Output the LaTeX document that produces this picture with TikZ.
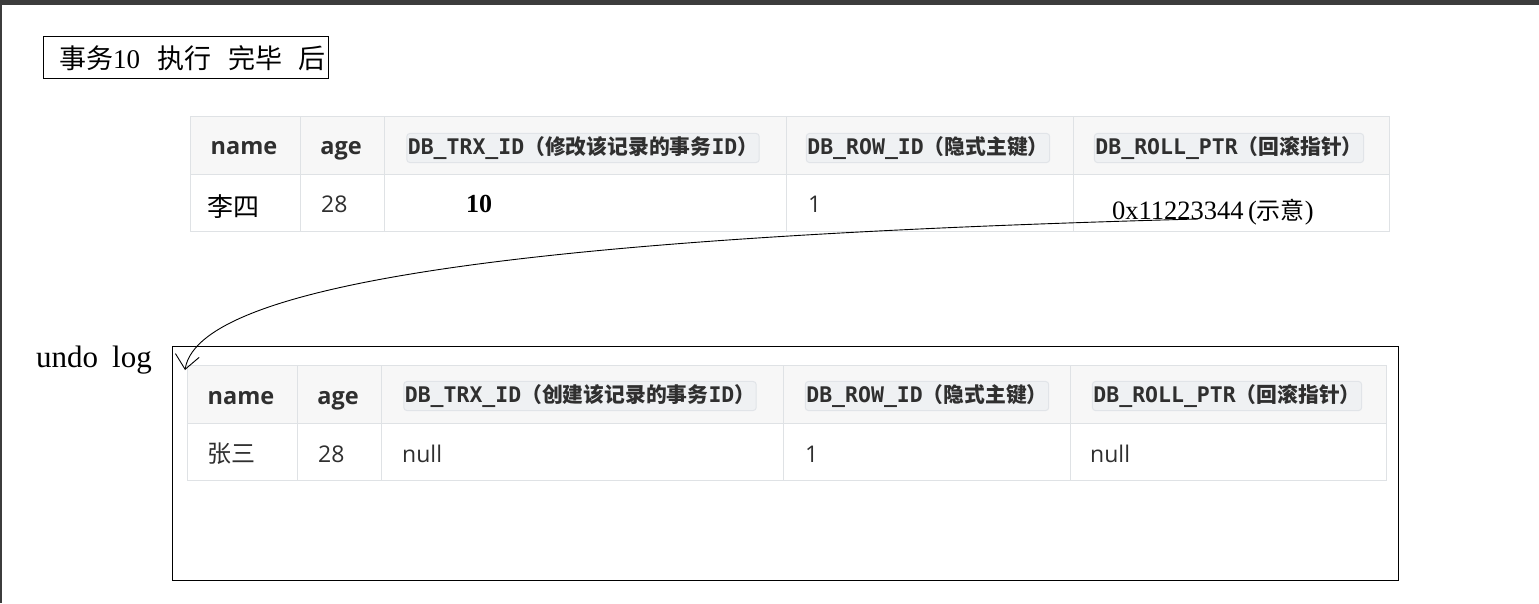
\documentclass[tikz,border=0pt]{standalone}
\usepackage{fontspec}
\setmainfont{Liberation Serif}
\newfontfamily\sansf{Open Sans}
\newfontfamily\monof{DejaVu Sans Mono}
\newfontfamily\cjkf{Noto Sans CJK SC}
\usetikzlibrary{arrows.meta}
\definecolor{tblline}{HTML}{DFE2E5}
\definecolor{headbg}{HTML}{F7F7F7}
\definecolor{codebg}{HTML}{EFF1F3}
\definecolor{codeline}{HTML}{E1E4E8}
\definecolor{txtgray}{HTML}{2F2F2F}
\definecolor{winframe}{HTML}{3C3C3C}
\newcommand\fsz[1]{\fontsize{#1}{#1}\selectfont}
\tikzset{
  cell/.style={anchor=base west, inner sep=0pt, text=txtgray},
  headtxt/.style={anchor=base, inner sep=0pt, text=txtgray, font=\sansf\bfseries\fsz{23.5}},
  codelbl/.style={fill=codebg, draw=codeline, line width=1pt, rounded corners=3pt,
    inner xsep=1pt, inner ysep=3pt, text=txtgray},
  tline/.style={draw=tblline, line width=1pt},
  blackbox/.style={draw=black, line width=1pt},
}
\newcommand\codetxt[2]{{\monof\bfseries\fsz{21.5}#1}{\cjkf\bfseries\fsz{20.8}#2}}
\begin{document}
\begin{tikzpicture}[x=1pt,y=-1pt]
\useasboundingbox (0,0) rectangle (1539,603);
% window edge
\fill[winframe] (0,0) rectangle (1539,5);
\fill[winframe] (0,0) rectangle (1.5,603);
% title
\draw[blackbox] (43,36) rectangle (328,78);
\node[anchor=west, inner sep=0pt] (title) at (59,58)
 {\fsz{27}{\cjkf 事务}10\hspace{17pt}{\cjkf 执行}\hspace{17pt}{\cjkf 完毕}\hspace{16pt}{\cjkf 后}};
% current record
\fill[headbg] (190,116) rectangle (1389,174);
\draw[tline] (190,116) rectangle (1389,231);
\draw[tline] (190,174) -- (1389,174);
\draw[tline] (300,116) -- (300,231);
\draw[tline] (384,116) -- (384,231);
\draw[tline] (786,116) -- (786,231);
\draw[tline] (1073,116) -- (1073,231);
\node[headtxt] (hname) at (244,154) {name};
\node[headtxt] (hage) at (341,154) {age};
\node[codelbl] (htrx) at (583,148) {\codetxt{DB\_TRX\_ID}{（修改该记录的事务}\codetxt{ID}{）}};
\node[codelbl] (hrow) at (928,148) {\codetxt{DB\_ROW\_ID}{（隐式主键）}};
\node[codelbl] (hroll) at (1229,148) {\codetxt{DB\_ROLL\_PTR}{（回滚指针）}};
\node[cell, text=black] (vname) at (207,216) {\cjkf\fsz{26}李四};
\node[cell, font=\sansf\fsz{23}] (vage) at (321,212) {28};
\node[cell, text=black, font=\bfseries\fsz{26}] (vtrx) at (466,212) {10};
\node[cell, font=\sansf\fsz{23}] (vrow) at (808,212) {1};
\node[cell, text=black, font=\fsz{26.5}] (vroll) at (1112,219) {0x11223344\,({\cjkf\fsz{24}示意})};
% undo log
\node[anchor=base west, inner sep=0pt] (undolbl) at (36,367) {\fsz{31}undo\hspace{14pt}log};
\draw[blackbox] (172,346) rectangle (1398,580);
\fill[headbg] (187,365) rectangle (1386,423);
\draw[tline] (187,365) rectangle (1386,480);
\draw[tline] (187,423) -- (1386,423);
\draw[tline] (297,365) -- (297,480);
\draw[tline] (381,365) -- (381,480);
\draw[tline] (783,365) -- (783,480);
\draw[tline] (1070,365) -- (1070,480);
\node[headtxt] (uname) at (241,404) {name};
\node[headtxt] (uage) at (338,404) {age};
\node[codelbl] (utrx) at (580,396) {\codetxt{DB\_TRX\_ID}{（创建该记录的事务}\codetxt{ID}{）}};
\node[codelbl] (urow) at (927,396) {\codetxt{DB\_ROW\_ID}{（隐式主键）}};
\node[codelbl] (uroll) at (1227,396) {\codetxt{DB\_ROLL\_PTR}{（回滚指针）}};
\node[cell] (wname) at (207,462) {\cjkf\fsz{24}张三};
\node[cell, font=\sansf\fsz{23}] (wage) at (318,462) {28};
\node[cell, font=\sansf\fsz{23}] (wtrx) at (402,462) {null};
\node[cell, font=\sansf\fsz{23}] (wrow) at (805,462) {1};
\node[cell, font=\sansf\fsz{23}] (wroll) at (1090,462) {null};
% roll pointer
\coordinate (ptrend) at (1198,219);
\coordinate (ptrtip) at (185,370);
\draw[line width=0.9pt, -{Straight Barb[length=14pt,width=24pt]}] (ptrend)
 .. controls (600,235) and (200,275) .. (ptrtip);
\end{tikzpicture}
\end{document}
